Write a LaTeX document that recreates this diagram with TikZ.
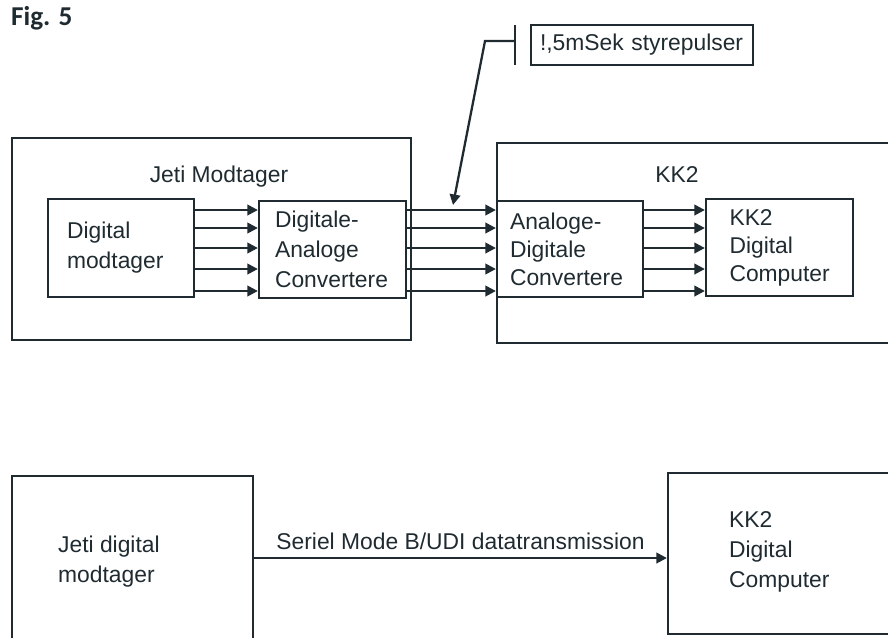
\documentclass[tikz,border=0pt]{standalone}
\usepackage{fontspec}
\setmainfont{Liberation Sans}
\newfontfamily\figfont{Carlito}
\usepackage{tikz}
\usetikzlibrary{arrows.meta}
\usepackage{xcolor}
\definecolor{ink}{HTML}{1F2B31}

\begin{document}
\begin{tikzpicture}[x=0.02cm,y=-0.02cm,color=ink,line width=1.3pt,
  font=\fontsize{13}{17}\selectfont,
  boks/.style={draw,rectangle,align=left,inner ysep=0pt},
  ramme/.style={draw,rectangle,inner sep=0pt},
  tekst/.style={inner sep=0pt,align=left},
  pil/.style={-{Triangle[length=6pt,width=6pt]}}]
\useasboundingbox (0,0) rectangle (888,637);
\clip (0,0) rectangle (888,637);
\node[tekst,anchor=base west,font=\figfont\fontsize{15.5}{18}\selectfont\bfseries] (fig) at (10,25) {Fig. 5};
% Jeti modtager
\node[ramme,minimum width=7.98cm,minimum height=4.04cm] (jm) at (211.5,239) {};
\node (jmt) at (219,177) {Jeti Modtager};
\node[boks,text width=2.16cm,inner xsep=.38cm,minimum height=1.96cm] (dm) at (121,248) {Digital\\modtager};
\node[boks,text width=2.3cm,inner xsep=.32cm,minimum height=1.94cm] (da) at (332.5,249.5) {Digitale-\\Analoge\\Convertere};
% KK2
\node[ramme,minimum width=8.46cm,minimum height=4cm] (kk) at (708.5,243) {};
\node (kkt) at (677,175) {KK2};
\node[boks,text width=2.4cm,inner xsep=.26cm,minimum height=1.92cm,font=\fontsize{13}{16}\selectfont] (ad) at (570,249) {Analoge-\\Digitale\\Convertere};
\node[boks,text width=2cm,inner xsep=.47cm,minimum height=1.94cm,font=\fontsize{13}{16}\selectfont] (kc) at (779.5,247.5) {KK2\\Digital\\Computer};
\foreach \y in {210,228,248,269,291}{
  \draw[pil] (dm.east |- 0,\y) -- (da.west |- 0,\y);
  \draw[pil] (da.east |- 0,\y) -- (ad.west |- 0,\y);
  \draw[pil] (ad.east |- 0,\y) -- (kc.west |- 0,\y);
}
% styrepulser
\node[boks,text width=4.08cm,inner xsep=.18cm,minimum height=.8cm] (sp) at (642,45) {!,5mSek styrepulser};
\coordinate (b1) at (515,25);
\coordinate (b2) at (515,65);
\draw[line width=1.6pt] (b1) -- (b2);
\coordinate (p) at (515,41);
\coordinate (k) at (485,41);
\coordinate (t) at (453,205);
\draw[pil] (p) -- (k) -- (t);
% seriel
\node[ramme,minimum width=4.82cm,minimum height=4.5cm] (bj) at (132.5,588.5) {};
\node[tekst,anchor=west] (bjt) at (57,562) {Jeti digital\\modtager};
\node[ramme,minimum width=5.04cm,minimum height=3.22cm] (bk) at (794,553.5) {};
\node[tekst,anchor=west] (bkt) at (728,552) {KK2\\Digital\\Computer};
\draw[pil] (bj.east |- 0,558) -- node[above,yshift=1pt] (sl) {Seriel Mode B/UDI datatransmission} (bk.west |- 0,558);
\end{tikzpicture}
\end{document}
